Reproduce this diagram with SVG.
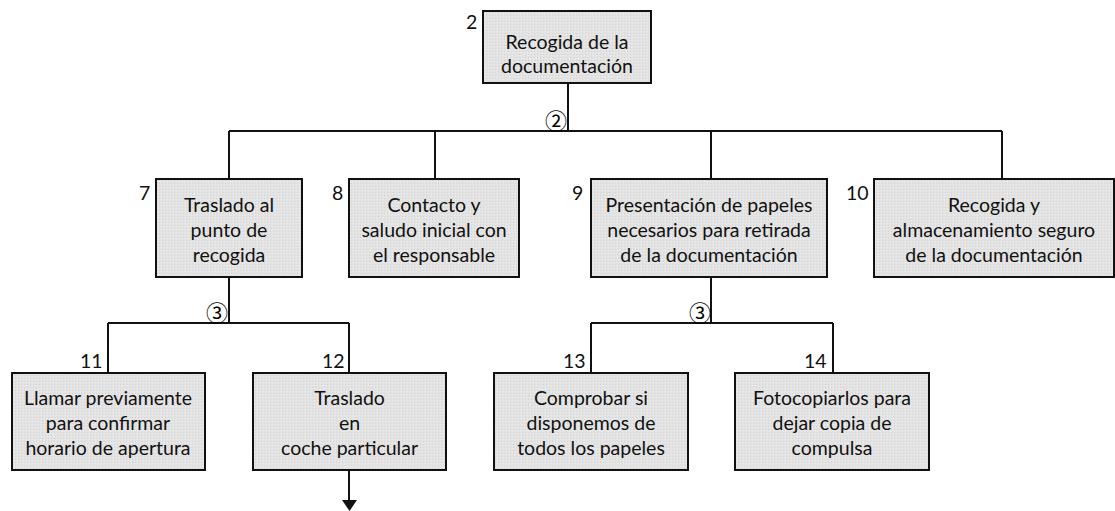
<svg xmlns="http://www.w3.org/2000/svg" width="1115" height="511" viewBox="0 0 1115 511">
  <defs>
    <!-- fine stipple used as the box fill -->
    <pattern id="stipple" width="3" height="3" patternUnits="userSpaceOnUse">
      <rect width="3" height="3" fill="#e3e3e3"/>
      <rect x="0" y="0" width="1" height="1" fill="#d5d5d5"/>
      <rect x="2" y="1" width="1" height="1" fill="#ececec"/>
    </pattern>
  </defs>
  <style>
    .box { fill: url(#stipple); stroke: #111; stroke-width: 2; }
    .lbl { font-family: Lato, "Liberation Sans", sans-serif; font-size: 19.5px; fill: #111; text-anchor: middle; }
    .num { font-family: Lato, "Liberation Sans", sans-serif; font-size: 19.5px; fill: #111; }
    .circ { font-family: "Noto Sans CJK JP", "DejaVu Sans", serif; font-size: 22px; fill: #000; text-anchor: end; }
    .wire { fill: none; stroke: #111; stroke-width: 2; }
  </style>

  <rect width="1115" height="511" fill="#fff"/>

  <!-- connectors -->
  <g id="connectors">
    <path class="wire" d="M568 83 V131 M229 131 H1002 M229 131 V179 M435 131 V179 M711 131 V179 M1002 131 V179"/>
    <path class="wire" d="M229 277 V323 M108 323 H349 M108 323 V373 M349 323 V373"/>
    <path class="wire" d="M711 277 V323 M591 323 H833 M591 323 V373 M833 323 V373"/>
    <path class="wire" d="M349 469 V503"/>
    <polygon points="342,500 357,500 349.5,511" fill="#111"/>
    <text class="circ" x="567" y="129">②</text>
    <text class="circ" x="228" y="321">③</text>
    <text class="circ" x="711" y="321">③</text>
  </g>

  <g id="node-2">
    <rect class="box" x="483" y="11" width="168" height="72"/>
    <text class="num" x="466" y="29">2</text>
    <text class="lbl" x="567" y="49">Recogida de la</text>
    <text class="lbl" x="567" y="73">documentación</text>
  </g>

  <g id="node-7">
    <rect class="box" x="156" y="179" width="146" height="98"/>
    <text class="num" x="139" y="200">7</text>
    <text class="lbl" x="229" y="212">Traslado al</text>
    <text class="lbl" x="229" y="237">punto de</text>
    <text class="lbl" x="229" y="262">recogida</text>
  </g>

  <g id="node-8">
    <rect class="box" x="349" y="179" width="170" height="98"/>
    <text class="num" x="332" y="200">8</text>
    <text class="lbl" x="434" y="212">Contacto y</text>
    <text class="lbl" x="434" y="237">saludo inicial con</text>
    <text class="lbl" x="434" y="262">el responsable</text>
  </g>

  <g id="node-9">
    <rect class="box" x="591" y="179" width="236" height="98"/>
    <text class="num" x="572" y="200">9</text>
    <text class="lbl" x="709" y="212">Presentación de papeles</text>
    <text class="lbl" x="709" y="237">necesarios para retirada</text>
    <text class="lbl" x="709" y="262">de la documentación</text>
  </g>

  <g id="node-10">
    <rect class="box" x="874" y="179" width="240" height="98"/>
    <text class="num" x="846" y="200">10</text>
    <text class="lbl" x="994" y="212">Recogida y</text>
    <text class="lbl" x="994" y="237">almacenamiento seguro</text>
    <text class="lbl" x="994" y="262">de la documentación</text>
  </g>

  <g id="node-11">
    <rect class="box" x="12" y="373" width="193" height="97"/>
    <text class="num" x="80" y="368">11</text>
    <text class="lbl" x="108" y="405">Llamar previamente</text>
    <text class="lbl" x="108" y="430">para confirmar</text>
    <text class="lbl" x="108" y="455">horario de apertura</text>
  </g>

  <g id="node-12">
    <rect class="box" x="253" y="373" width="193" height="97"/>
    <text class="num" x="322" y="368">12</text>
    <text class="lbl" x="349.5" y="405">Traslado</text>
    <text class="lbl" x="349.5" y="430">en</text>
    <text class="lbl" x="349.5" y="455">coche particular</text>
  </g>

  <g id="node-13">
    <rect class="box" x="494" y="373" width="194" height="97"/>
    <text class="num" x="563" y="368">13</text>
    <text class="lbl" x="591" y="405">Comprobar si</text>
    <text class="lbl" x="591" y="430">disponemos de</text>
    <text class="lbl" x="591" y="455">todos los papeles</text>
  </g>

  <g id="node-14">
    <rect class="box" x="735" y="373" width="194" height="97"/>
    <text class="num" x="804" y="368">14</text>
    <text class="lbl" x="832" y="405">Fotocopiarlos para</text>
    <text class="lbl" x="832" y="430">dejar copia de</text>
    <text class="lbl" x="832" y="455">compulsa</text>
  </g>
</svg>
